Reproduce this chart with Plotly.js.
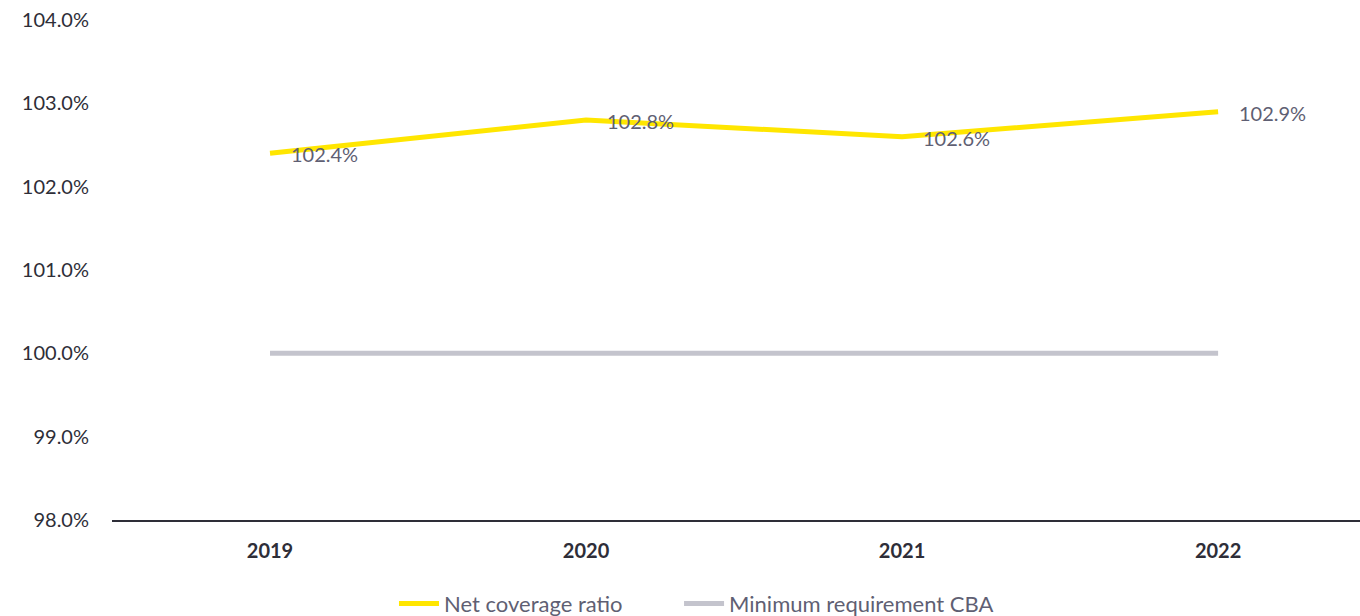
<!DOCTYPE html>
<html>
<head>
<meta charset="utf-8">
<script src="https://cdn.plot.ly/plotly-3.0.1.min.js"></script>
<style>html,body{margin:0;padding:0;background:#fff;}#chart{width:1360px;height:616px;}</style>
</head>
<body>
<div id="chart"></div>
<script>
var years = ['2019', '2020', '2021', '2022'];
var netCoverage = [102.4, 102.8, 102.6, 102.9];
var minRequirement = [100.0, 100.0, 100.0, 100.0];
var yTicks = [98, 99, 100, 101, 102, 103, 104];
var yTickLabels = ['98.0%', '99.0%', '100.0%', '101.0%', '102.0%', '103.0%', '104.0%'];

var font = 'Lato, Open Sans, sans-serif';

var traces = [
  {x: years, y: netCoverage, type: 'scatter', mode: 'lines', name: 'Net coverage ratio',
   line: {color: '#FFE600', width: 5}, legend: 'legend'},
  {x: years, y: minRequirement, type: 'scatter', mode: 'lines', name: 'Minimum requirement CBA',
   line: {color: '#C4C4CD', width: 5}, legend: 'legend2'}
];

var annotations = years.map(function (yr, i) {
  return {x: i, y: netCoverage[i], xref: 'x', yref: 'y', text: netCoverage[i].toFixed(1) + '%',
    showarrow: false, xanchor: 'left', yanchor: 'middle', xshift: 19, yshift: -1,
    font: {family: font, size: 20, color: '#5F5F73'}};
});

var legendFont = {family: font, size: 22, color: '#5F5F73'};

var layout = {
  width: 1360, height: 616,
  margin: {l: 112, r: 0, t: 20, b: 96, autoexpand: false},
  paper_bgcolor: '#fff', plot_bgcolor: '#fff',
  showlegend: true,
  legend: {orientation: 'h', xref: 'container', yref: 'container', x: 0.2897, xanchor: 'left',
    y: 0.02, yanchor: 'middle', font: legendFont, itemwidth: 40},
  legend2: {orientation: 'h', xref: 'container', yref: 'container', x: 0.4993, xanchor: 'left',
    y: 0.02, yanchor: 'middle', font: legendFont, itemwidth: 40},
  xaxis: {type: 'category', range: [-0.5, 3.449], showgrid: false, zeroline: false, automargin: false,
    showline: true, linecolor: '#2E2E38', linewidth: 2, ticks: '',
    tickfont: {family: font, size: 20, color: '#2E2E38', weight: 'bold'}, ticklabelstandoff: 12},
  yaxis: {range: [98, 104], tickvals: yTicks, ticktext: yTickLabels, showgrid: false, automargin: false,
    zeroline: false, showline: false, ticks: '', ticklabelstandoff: 22,
    tickfont: {family: font, size: 20, color: '#2E2E38'}},
  annotations: annotations
};

Plotly.newPlot('chart', traces, layout, {displayModeBar: false, staticPlot: true});
</script>
</body>
</html>
